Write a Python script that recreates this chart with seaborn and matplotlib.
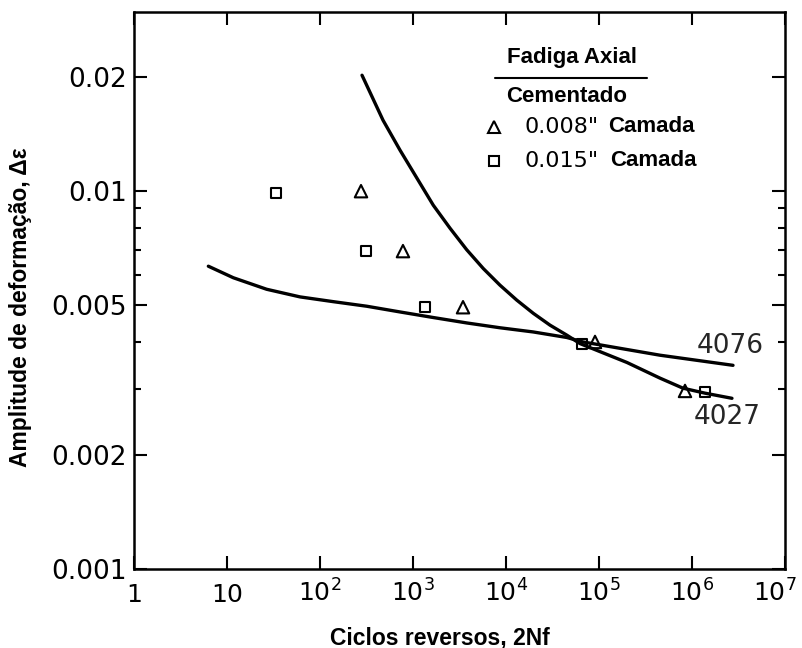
import matplotlib
matplotlib.use("Agg")
import matplotlib.pyplot as plt
import matplotlib.transforms as mtransforms
import seaborn as sns
import pandas as pd

# ---- data ----
curve_4076_x = [6.3, 11.7, 26.7, 61, 139, 318, 725, 1652, 3777, 8610, 19660, 44970,
                67300, 453000, 2.76e6]
curve_4076_y = [0.00633, 0.00590, 0.00550, 0.00525, 0.00510, 0.00496, 0.00479, 0.00463,
                0.00448, 0.00435, 0.00424, 0.00410, 0.00399, 0.00368, 0.00346]

curve_4027_x = [283, 476, 725, 1096, 1652, 2500, 3777, 5702, 8610, 13030, 19660, 29720,
                44970, 62500, 200000, 453000, 800000, 1.38e6, 2.69e6]
curve_4027_y = [0.02027, 0.01541, 0.01284, 0.01085, 0.00918, 0.00798, 0.00700, 0.00624,
                0.00564, 0.00515, 0.00475, 0.00442, 0.00416, 0.00395, 0.00352, 0.00320,
                0.00301, 0.00292, 0.00283]

tri_x = [276, 780, 3450, 90600, 841000]          # 0.008" Camada
tri_y = [0.0100, 0.00694, 0.00493, 0.00399, 0.00296]
sq_x = [33.6, 312, 1346, 65600, 1.38e6]          # 0.015" Camada
sq_y = [0.0099, 0.00694, 0.00493, 0.00394, 0.00294]

x_ticks = [1, 10, 1e2, 1e3, 1e4, 1e5, 1e6, 1e7]
x_tick_labels = [r"$\mathregular{1}$", r"$\mathregular{10}$", r"$\mathregular{10^{2}}$",
                 r"$\mathregular{10^{3}}$", r"$\mathregular{10^{4}}$", r"$\mathregular{10^{5}}$",
                 r"$\mathregular{10^{6}}$", r"$\mathregular{10^{7}}$"]
y_ticks = [0.001, 0.002, 0.005, 0.01, 0.02]
y_tick_labels = ["0.001", "0.002", "0.005", "0.01", "0.02"]
y_minor_ticks = [0.003, 0.004, 0.006, 0.007, 0.008, 0.009]

curve_labels = ["4076", "4027"]
legend_title = "Fadiga Axial"
legend_sub = "Cementado"
legend_items = ['0.008"', '0.015"']
legend_word = "Camada"
x_label = "Ciclos reversos, 2Nf"
y_label = "Amplitude de deformação, Δε"

# ---- style ----
sns.set_style("ticks")
plt.rcParams["font.family"] = ["DejaVu Sans"]
plt.rcParams["mathtext.default"] = "regular"

fig = plt.figure(figsize=(8.03, 6.48), dpi=100)
ax = fig.add_axes([134 / 803, 79 / 648, 651 / 803, 557 / 648])
ax.set_xscale("log")
ax.set_yscale("log")

df76 = pd.DataFrame({"x": curve_4076_x, "y": curve_4076_y})
df27 = pd.DataFrame({"x": curve_4027_x, "y": curve_4027_y})
sns.lineplot(data=df76, x="x", y="y", ax=ax, color="black", lw=2.4, sort=False,
             estimator=None, solid_joinstyle="round")
sns.lineplot(data=df27, x="x", y="y", ax=ax, color="black", lw=2.4, sort=False,
             estimator=None, solid_joinstyle="round")

sns.scatterplot(x=tri_x, y=tri_y, ax=ax, marker="^", s=80, facecolor="none",
                edgecolor="black", linewidth=1.5, zorder=5)
sns.scatterplot(x=sq_x, y=sq_y, ax=ax, marker="s", s=50, facecolor="none",
                edgecolor="black", linewidth=1.5, zorder=5)

ax.set_xlim(1, 1e7)
ax.set_ylim(0.001, 0.0298)

ax.set_xticks(x_ticks)
ax.set_xticklabels(x_tick_labels)
ax.xaxis.set_minor_locator(matplotlib.ticker.NullLocator())
ax.set_yticks(y_ticks)
ax.set_yticklabels(y_tick_labels)
ax.set_yticks(y_minor_ticks, minor=True)
ax.yaxis.set_minor_formatter(matplotlib.ticker.NullFormatter())

ax.tick_params(which="both", direction="in", top=True, right=True, width=1.5, color="black",
               labelcolor="black")
ax.tick_params(axis="y", labelsize=19, pad=5)
ax.tick_params(axis="x", labelsize=18, pad=23.5)
ax.tick_params(which="major", length=9.5)
ax.tick_params(which="minor", length=5)
for lab in ax.get_xticklabels():
    lab.set_va("baseline")
last = ax.get_xticklabels()[-1]
last.set_transform(last.get_transform() +
                   mtransforms.ScaledTranslation(-10 / 100, 0, fig.dpi_scale_trans))

for sp in ax.spines.values():
    sp.set_linewidth(1.8)
    sp.set_color("black")

bold = dict(family="Liberation Sans", weight="bold", color="black")
ax.set_xlabel(x_label, fontsize=16.5, va="center", **bold)
ax.xaxis.set_label_coords((440 - 134) / 651, -(638 - 569) / 557)
ax.set_ylabel(y_label, fontsize=16.5, va="center", **bold)
ax.yaxis.set_label_coords((21 - 134) / 651, (569 - 307) / 557)

# curve labels
ax.text(2.56e6, 0.00389, curve_labels[0], fontsize=19, ha="center", va="center")
ax.text(2.38e6, 0.00252, curve_labels[1], fontsize=19, ha="center", va="center")

# legend block (axes fraction coordinates)
def fx(px):
    return (px - 134) / 651

def fy(py):
    return (569 - py) / 557

ax.text(fx(572), fy(58), legend_title, fontsize=16, ha="center", va="center",
        transform=ax.transAxes, **bold)
ax.plot([fx(495), fx(647)], [fy(78), fy(78)], color="black", lw=1.5, transform=ax.transAxes)
ax.text(fx(567), fy(97), legend_sub, fontsize=16, ha="center", va="center",
        transform=ax.transAxes, **bold)
rows = [(127, "^", 8.5, 608), (161, "s", 7, 610)]
for (py, mk, ms, wx), item in zip(rows, legend_items):
    ax.plot([fx(494)], [fy(py)], marker=mk, ms=ms, mfc="none", mec="black", mew=1.5,
            ls="none", transform=ax.transAxes)
    ax.text(fx(525), fy(py), item, fontsize=16, ha="left", va="center",
            transform=ax.transAxes, color="black")
    ax.text(fx(wx), fy(py), legend_word, fontsize=16, ha="left", va="center",
            transform=ax.transAxes, **bold)

fig.savefig("out.png", dpi=100, facecolor="white")
